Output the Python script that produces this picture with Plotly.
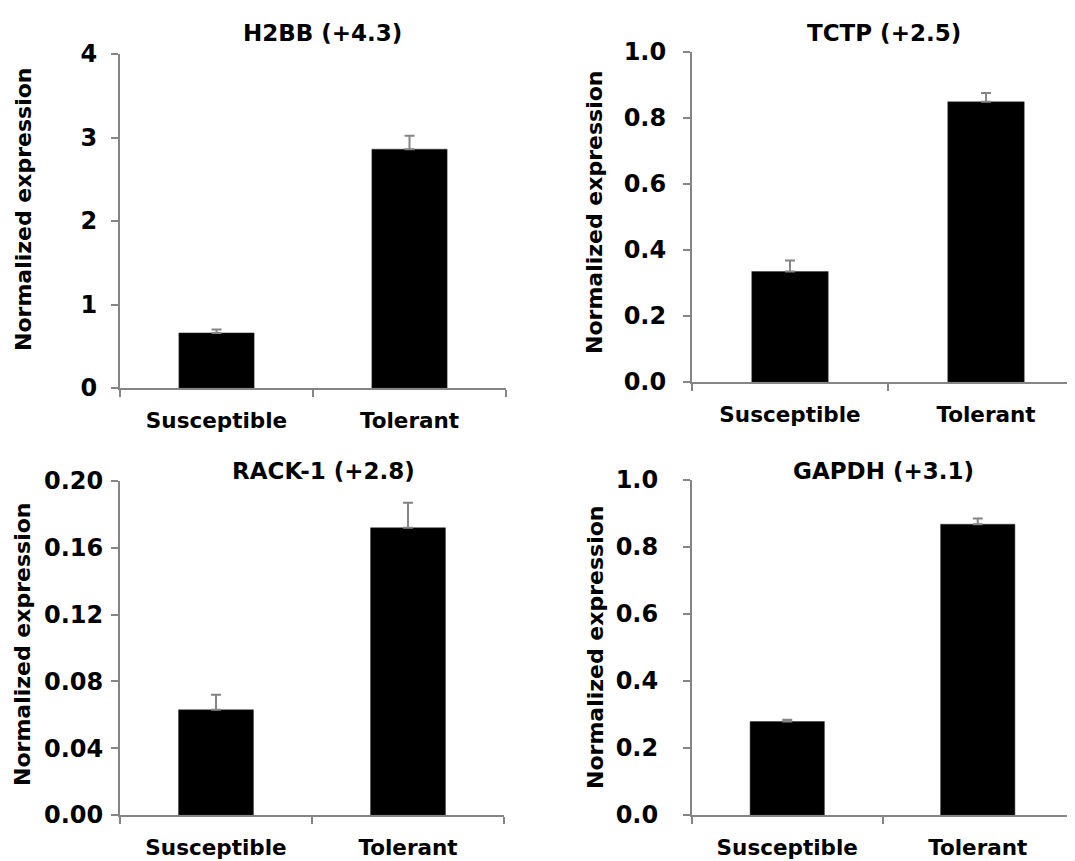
import plotly.graph_objects as go

# page body adds an 8px margin; the figure is sized and positioned to compensate
OFF = 8
W, H = 1075 - OFF, 861 - OFF

categories = ["Susceptible", "Tolerant"]

titles = ["H2BB (+4.3)", "TCTP (+2.5)", "RACK-1 (+2.8)", "GAPDH (+3.1)"]
h2bb = [0.66, 2.86]
h2bb_err = [0.04, 0.16]
tctp = [0.335, 0.849]
tctp_err = [0.033, 0.027]
rack1 = [0.063, 0.172]
rack1_err = [0.009, 0.015]
gapdh = [0.279, 0.868]
gapdh_err = [0.005, 0.017]

y_ranges = [[0, 4], [0, 1.0], [0, 0.20], [0, 1.0]]
y_dticks = [1, 0.2, 0.04, 0.2]
y_formats = ["d", ".1f", ".2f", ".1f"]

values = [h2bb, tctp, rack1, gapdh]
errors = [h2bb_err, tctp_err, rack1_err, gapdh_err]

# layout in screen pixels: (x_left, x_right_full, x_visible_right, y_top, y_bottom)
panels = [
    (120, 506, 506, 54, 388),
    (692, 1084, 1075, 52, 382),
    (120, 504, 504, 481, 815),
    (692, 1073, 1073, 480, 815),
]
title_pos = [(322, 33), (884, 33), (323, 471), (883, 471)]
ylab_pos = [(23, 209), (594, 212), (22, 644), (595, 647)]
label_standoff = [9, 12, 3, 20]

FONT = "DejaVu Sans"
AXIS = "#858585"


def px(x):
    return (x - OFF) / W


def py(y):
    return 1 - (y - OFF) / H


fig = go.Figure()
annotations = []
for i in range(4):
    xl, xr_full, xr_vis, yt, yb = panels[i]
    sfx = "" if i == 0 else str(i + 1)
    fig.add_trace(go.Bar(
        x=categories, y=values[i], width=[0.39, 0.39],
        marker=dict(color="black", line=dict(color="#333333", width=0.5)),
        error_y=dict(type="data", array=errors[i], arrayminus=[0, 0], symmetric=False,
                     color=AXIS, thickness=2, width=5),
        xaxis="x" + sfx, yaxis="y" + sfx, showlegend=False,
    ))
    cat_w = (xr_full - xl) / 2.0
    vis = min(xr_vis, W + OFF)
    xr_end = -0.5 + (vis - xl) / cat_w
    xa = dict(
        domain=[px(xl), min(px(vis), 1.0)], range=[-0.5, xr_end], type="category",
        showline=True, linecolor=AXIS, linewidth=2, ticks="outside", tickson="boundaries",
        ticklen=7, tickwidth=2, tickcolor=AXIS, showgrid=False, zeroline=False,
        tickfont=dict(family=FONT, size=21.5, color="black", weight="bold"),
        anchor="y" + sfx, fixedrange=True, ticklabelstandoff=12, automargin=False,
    )
    ya = dict(
        domain=[py(yb), py(yt)], range=y_ranges[i], dtick=y_dticks[i], tick0=0,
        tickformat=y_formats[i], showline=True, linecolor=AXIS, linewidth=2,
        ticks="outside", ticklen=7, tickwidth=2, tickcolor=AXIS, showgrid=False,
        zeroline=False, tickfont=dict(family=FONT, size=24, color="black", weight="bold"),
        anchor="x" + sfx, ticklabelstandoff=label_standoff[i], automargin=False,
    )
    fig.layout["xaxis" + sfx] = xa
    fig.layout["yaxis" + sfx] = ya
    tx, ty = title_pos[i]
    annotations.append(dict(
        text=titles[i], x=px(tx), y=py(ty), xref="paper", yref="paper",
        xanchor="center", yanchor="middle", showarrow=False,
        font=dict(family=FONT, size=23, color="black", weight="bold"),
    ))
    lx, ly = ylab_pos[i]
    annotations.append(dict(
        text="Normalized expression", x=px(lx), y=py(ly), xref="paper", yref="paper",
        xanchor="center", yanchor="middle", showarrow=False, textangle=-90,
        font=dict(family=FONT, size=22, color="black", weight="bold"),
    ))

fig.update_layout(
    width=W, height=H, margin=dict(l=0, r=0, t=0, b=0, autoexpand=False),
    paper_bgcolor="white", plot_bgcolor="white",
    annotations=annotations, bargap=0.6,
)

fig.write_html("out.html")
